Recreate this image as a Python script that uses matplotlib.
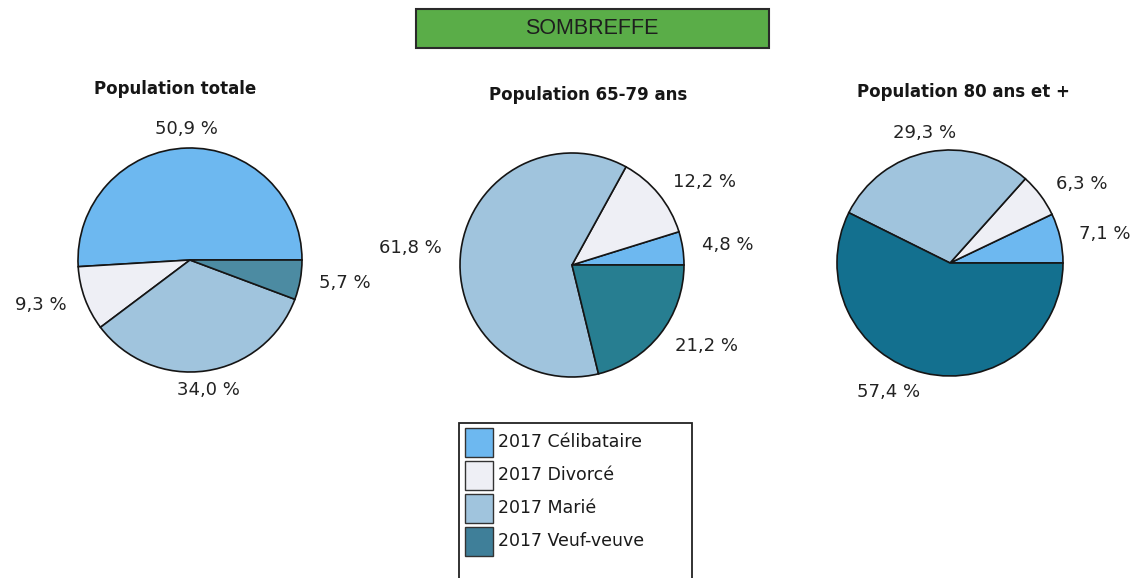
import matplotlib
matplotlib.use("Agg")
import matplotlib.pyplot as plt
from matplotlib.patches import Rectangle
import numpy as np

# ---- data ----
header = "SOMBREFFE"
categories = ["2017 Célibataire", "2017 Divorcé", "2017 Marié", "2017 Veuf-veuve"]
titles = ["Population totale", "Population 65-79 ans", "Population 80 ans et +"]
pop_totale = [50.9, 9.3, 34.0, 5.7]
pop_65_79 = [4.8, 12.2, 61.8, 21.2]
pop_80_plus = [7.1, 6.3, 29.3, 57.4]

# ---- style ----
W, H = 1131, 578
DPI = 100
fig = plt.figure(figsize=(W / DPI, H / DPI), dpi=DPI)
fig.patch.set_facecolor("white")
plt.rcParams["font.family"] = ["DejaVu Sans"]

def fx(x):
    return x / W

def fy(y):
    return 1 - y / H

col_celib = "#6db8f0"
col_div = "#eeeff5"
col_marie = "#a0c4dd"
veuf_cols = ["#4c8ba2", "#277e91", "#13708f"]
legend_cols = [col_celib, col_div, col_marie, "#3f7f99"]

# header box
fig.add_artist(Rectangle((fx(416), fy(48)), fx(353), 39 / H, transform=fig.transFigure,
                         facecolor="#5aad48", edgecolor="#2a2a2a", linewidth=1.5))
fig.text(fx(592), fy(29), header, ha="center", va="center", fontsize=15.5,
         family="Liberation Sans", color="#1e1e1e")

# pies: center px, radius px, title pos
pies = [
    (pop_totale, (190, 260), 112, (175, 89)),
    (pop_65_79, (572, 265), 112, (588, 95)),
    (pop_80_plus, (950, 263), 113, (963, 92)),
]

for i, (vals, (cx, cy), R, (tx, ty)) in enumerate(pies):
    half = 1.3 * R
    ax = fig.add_axes([fx(cx - half), fy(cy + half), 2 * half / W, 2 * half / H])
    ax.set_xlim(-1.3, 1.3)
    ax.set_ylim(-1.3, 1.3)
    ax.set_aspect("equal")
    ax.axis("off")
    colors = [col_celib, col_div, col_marie, veuf_cols[i]]
    wedges, _ = ax.pie(vals, colors=colors, startangle=0, counterclock=True, radius=1,
                       wedgeprops=dict(edgecolor="#151515", linewidth=1.2))
    ax.set_xlim(-1.3, 1.3)
    ax.set_ylim(-1.3, 1.3)
    for w, v in zip(wedges, vals):
        th = np.deg2rad((w.theta1 + w.theta2) / 2)
        c, s = np.cos(th), np.sin(th)
        r = 1.17
        if abs(c) < 0.2:
            ha = "center"
        elif c > 0:
            ha = "left"
        else:
            ha = "right"
        label = f"{v:.1f}".replace(".", ",") + " %"
        ax.text(r * c, r * s, label, ha=ha, va="center", fontsize=13, color="#222222")
    fig.text(fx(tx), fy(ty), titles[i], ha="center", va="center", fontsize=12,
             fontweight="bold", color="#161616")

# legend box
fig.add_artist(Rectangle((fx(459), fy(590)), fx(233), 167 / H, transform=fig.transFigure,
                         facecolor="white", edgecolor="#222222", linewidth=1.3))
for k, (name, col) in enumerate(zip(categories, legend_cols)):
    top = 428 + k * 33
    fig.add_artist(Rectangle((fx(465), fy(top + 29)), fx(28), 29 / H,
                             transform=fig.transFigure, facecolor=col,
                             edgecolor="#333333", linewidth=1.0))
    fig.text(fx(498), fy(top + 14), name, ha="left", va="center", fontsize=12.5,
             color="#1a1a1a")

fig.savefig("out.png", dpi=DPI)
